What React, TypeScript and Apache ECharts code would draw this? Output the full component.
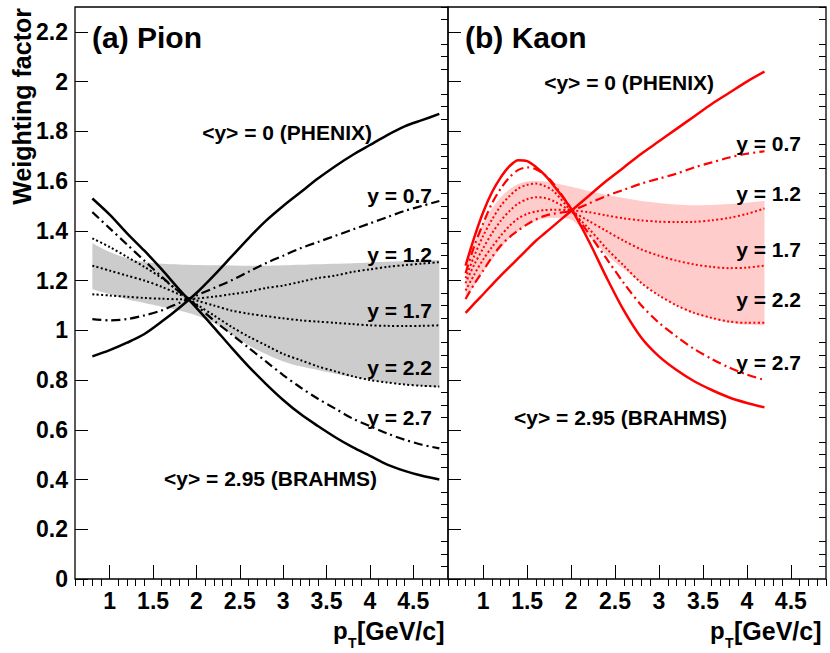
import React, { useEffect, useRef } from "react";
import * as echarts from "echarts";

// ---------------- data ----------------
const pTPion = [0.8, 1.0, 1.2, 1.4, 1.6, 1.8, 2.0, 2.2, 2.4, 2.6, 2.8, 3.0, 3.2, 3.4, 3.6, 3.8, 4.0, 4.2, 4.4, 4.6, 4.8];
const pionPhenix = [0.895, 0.92, 0.95, 0.985, 1.035, 1.09, 1.15, 1.22, 1.295, 1.37, 1.44, 1.5, 1.555, 1.61, 1.66, 1.705, 1.745, 1.785, 1.82, 1.845, 1.87];
const pionBrahms = [1.53, 1.465, 1.39, 1.32, 1.245, 1.165, 1.09, 1.012, 0.932, 0.855, 0.785, 0.72, 0.663, 0.615, 0.57, 0.53, 0.495, 0.46, 0.435, 0.415, 0.4];
const pionY07 = [1.045, 1.04, 1.045, 1.06, 1.08, 1.11, 1.14, 1.17, 1.2, 1.235, 1.27, 1.3, 1.33, 1.355, 1.38, 1.405, 1.43, 1.455, 1.48, 1.5, 1.52];
const pionY12 = [1.145, 1.14, 1.135, 1.13, 1.127, 1.125, 1.128, 1.135, 1.145, 1.155, 1.17, 1.18, 1.195, 1.21, 1.22, 1.235, 1.245, 1.255, 1.262, 1.268, 1.274];
const pionY17 = [1.26, 1.24, 1.22, 1.2, 1.175, 1.145, 1.12, 1.1, 1.08, 1.067, 1.057, 1.048, 1.04, 1.035, 1.03, 1.025, 1.02, 1.018, 1.017, 1.018, 1.02];
const pionY22 = [1.37, 1.335, 1.295, 1.255, 1.21, 1.155, 1.105, 1.06, 1.015, 0.975, 0.94, 0.905, 0.88, 0.855, 0.835, 0.815, 0.8, 0.79, 0.782, 0.777, 0.774];
const pionY27 = [1.475, 1.41, 1.345, 1.28, 1.215, 1.155, 1.1, 1.04, 0.985, 0.93, 0.875, 0.82, 0.77, 0.725, 0.685, 0.645, 0.615, 0.585, 0.56, 0.54, 0.525];
const pionBandLow = [1.165, 1.145, 1.125, 1.11, 1.095, 1.08, 1.06, 1.03, 0.985, 0.94, 0.905, 0.875, 0.855, 0.84, 0.825, 0.812, 0.8, 0.79, 0.782, 0.776, 0.77];
const pionBandHigh = [1.35, 1.315, 1.29, 1.275, 1.268, 1.265, 1.263, 1.262, 1.261, 1.26, 1.26, 1.262, 1.264, 1.266, 1.268, 1.27, 1.273, 1.276, 1.278, 1.28, 1.283];

const pTKaon = [0.8, 0.9, 1.0, 1.1, 1.2, 1.3, 1.4, 1.5, 1.6, 1.7, 1.8, 2.0, 2.2, 2.4, 2.6, 2.8, 3.0, 3.2, 3.4, 3.6, 3.8, 4.0, 4.2];
const kaonPhenix = [1.07, 1.108, 1.145, 1.183, 1.22, 1.255, 1.29, 1.325, 1.36, 1.39, 1.42, 1.48, 1.54, 1.6, 1.655, 1.71, 1.76, 1.81, 1.86, 1.91, 1.955, 2.0, 2.04];
const kaonBrahms = [1.26, 1.375, 1.475, 1.555, 1.615, 1.66, 1.684, 1.68, 1.657, 1.625, 1.583, 1.489, 1.36, 1.215, 1.08, 0.97, 0.895, 0.84, 0.795, 0.76, 0.73, 0.708, 0.69];
const kaonY07 = [1.126, 1.187, 1.24, 1.294, 1.341, 1.375, 1.402, 1.426, 1.446, 1.46, 1.469, 1.48, 1.51, 1.54, 1.565, 1.59, 1.61, 1.63, 1.655, 1.675, 1.695, 1.71, 1.72];
const kaonY12 = [1.16, 1.225, 1.285, 1.335, 1.38, 1.42, 1.45, 1.468, 1.478, 1.483, 1.485, 1.482, 1.475, 1.462, 1.45, 1.442, 1.437, 1.435, 1.436, 1.442, 1.452, 1.468, 1.49];
const kaonY17 = [1.19, 1.265, 1.33, 1.39, 1.44, 1.48, 1.51, 1.527, 1.535, 1.532, 1.52, 1.48, 1.44, 1.4, 1.36, 1.325, 1.3, 1.28, 1.265, 1.255, 1.25, 1.252, 1.26];
const kaonY22 = [1.21, 1.3, 1.38, 1.445, 1.5, 1.54, 1.57, 1.585, 1.59, 1.58, 1.56, 1.48, 1.41, 1.33, 1.26, 1.19, 1.14, 1.1, 1.07, 1.05, 1.035, 1.03, 1.03];
const kaonY27 = [1.23, 1.34, 1.43, 1.51, 1.57, 1.615, 1.645, 1.655, 1.648, 1.625, 1.59, 1.49, 1.39, 1.29, 1.19, 1.1, 1.03, 0.975, 0.925, 0.885, 0.85, 0.822, 0.8];
const kaonBandLow = [1.12, 1.18, 1.235, 1.285, 1.33, 1.37, 1.4, 1.425, 1.44, 1.45, 1.453, 1.445, 1.38, 1.305, 1.245, 1.19, 1.14, 1.1, 1.068, 1.045, 1.03, 1.022, 1.02];
const kaonBandHigh = [1.25, 1.35, 1.43, 1.49, 1.535, 1.567, 1.588, 1.598, 1.6, 1.598, 1.592, 1.577, 1.56, 1.545, 1.532, 1.52, 1.512, 1.506, 1.503, 1.504, 1.508, 1.513, 1.52];

const xMajorTicks = [1, 1.5, 2, 2.5, 3, 3.5, 4, 4.5];
const yMajorTicks = [0, 0.2, 0.4, 0.6, 0.8, 1, 1.2, 1.4, 1.6, 1.8, 2, 2.2];

const panelTitles = ["(a) Pion", "(b) Kaon"];
const curveLabels = ["<y> = 0 (PHENIX)", "y = 0.7", "y = 1.2", "y = 1.7", "y = 2.2", "y = 2.7", "<y> = 2.95 (BRAHMS)"];
const yTitle = "Weighting factor";

// ---------------- helpers ----------------
const FONT = '"Liberation Sans", Arial, Helvetica, sans-serif';
const X_MIN = 0.6;
const X_MAX = 4.9;
const Y_MIN = 0;
const Y_MAX = 2.3;

const xMinorTicks: number[] = [];
for (let i = 6; i <= 49; i++) {
  if (i % 5 !== 0) xMinorTicks.push(i / 10);
}
const yMinorTicks: number[] = [];
for (let i = 1; i <= 46; i++) {
  if (i % 4 !== 0) yMinorTicks.push(i / 20);
}

const zip = (xs: number[], ys: number[]) => xs.map((x, i) => [x, ys[i]]);

const DASHDOT = [9, 4, 2, 4];
const DOTTED = [2, 2.4];
const SMOOTH = 0.3;

function curve(xs: number[], ys: number[], idx: number, color: string, type: any, width: number) {
  return {
    type: "line",
    xAxisIndex: idx * 2,
    yAxisIndex: idx * 2,
    data: zip(xs, ys),
    symbol: "none",
    smooth: SMOOTH,
    silent: true,
    z: 3,
    lineStyle: { color, type, width, cap: "butt" },
  };
}

// band: stacked pair (lower edge + thickness); columns are [value, pT] so the value column is stacked
function band(xs: number[], lo: number[], hi: number[], idx: number, color: string, stack: string) {
  const base = {
    type: "line",
    xAxisIndex: idx * 2,
    yAxisIndex: idx * 2,
    symbol: "none",
    smooth: SMOOTH,
    silent: true,
    z: 1,
    stack,
    encode: { x: 1, y: 0 },
    lineStyle: { opacity: 0, width: 0 },
  };
  return [
    { ...base, data: lo.map((v, i) => [v, xs[i]]) },
    { ...base, data: hi.map((v, i) => [v - lo[i], xs[i]]), areaStyle: { color, opacity: 1 } },
  ];
}

function xAxes(gridIndex: number) {
  return [
    {
      type: "value",
      gridIndex,
      min: X_MIN,
      max: X_MAX,
      z: 5,
      axisLine: { show: false },
      splitLine: { show: false },
      axisTick: { show: true, inside: true, length: 14, customValues: xMajorTicks, lineStyle: { color: "#000", width: 1 } },
      axisLabel: {
        show: true,
        customValues: xMajorTicks,
        margin: 10,
        color: "#000",
        fontFamily: FONT,
        fontWeight: "bold",
        fontSize: 23,
      },
    },
    {
      type: "value",
      gridIndex,
      min: X_MIN,
      max: X_MAX,
      z: 5,
      axisLine: { show: false },
      splitLine: { show: false },
      axisTick: { show: true, inside: true, length: 7, customValues: xMinorTicks, lineStyle: { color: "#000", width: 1 } },
      axisLabel: { show: false },
    },
  ];
}

function yAxes(gridIndex: number, labels: boolean) {
  return [
    {
      type: "value",
      gridIndex,
      min: Y_MIN,
      max: Y_MAX,
      z: 5,
      axisLine: { show: false },
      splitLine: { show: false },
      axisTick: { show: true, inside: true, length: 13, customValues: yMajorTicks, lineStyle: { color: "#000", width: 1 } },
      axisLabel: {
        show: labels,
        customValues: yMajorTicks,
        margin: 7,
        color: "#000",
        fontFamily: FONT,
        fontWeight: "bold",
        fontSize: 23,
      },
    },
    {
      type: "value",
      gridIndex,
      min: Y_MIN,
      max: Y_MAX,
      z: 5,
      axisLine: { show: false },
      splitLine: { show: false },
      axisTick: { show: true, inside: true, length: 7, customValues: yMinorTicks, lineStyle: { color: "#000", width: 1 } },
      axisLabel: { show: false },
    },
  ];
}

function txt(text: string, x: number, y: number, size: number, align: string, color = "#000", extra: any = {}) {
  return {
    type: "text",
    x,
    y,
    z: 100,
    silent: true,
    ...extra,
    style: {
      text,
      fill: color,
      font: `bold ${size}px ${FONT}`,
      fontFamily: FONT,
      fontWeight: "bold",
      fontSize: size,
      align,
      textAlign: align,
      verticalAlign: "middle",
      textVerticalAlign: "middle",
    },
  };
}

function panelTexts(dx: number, labelsRight: number[], labelsY: number[], phenixRight: number, phenixY: number, brahmsRight: number, brahmsY: number) {
  const out: any[] = [];
  out.push(txt(curveLabels[0], phenixRight, phenixY, 21, "right"));
  for (let i = 0; i < 5; i++) out.push(txt(curveLabels[i + 1], labelsRight[i], labelsY[i], 21, "right"));
  out.push(txt(curveLabels[6], brahmsRight, brahmsY, 21, "right"));
  // axis title p_T[GeV/c]
  out.push(txt("p", 333 + dx, 630, 24, "left"));
  out.push(txt("T", 348 + dx, 643, 14, "left"));
  out.push(txt("[GeV/c]", 357 + dx, 631, 25, "left"));
  return out;
}

const option: any = {
  animation: false,
  grid: [
    { left: 75, top: 7, width: 373, height: 572, show: true, z: 6, borderColor: "#000", borderWidth: 1.3, backgroundColor: "transparent", outerBoundsMode: "none", containLabel: false },
    { left: 448, top: 7, width: 378, height: 572, show: true, z: 6, borderColor: "#000", borderWidth: 1.3, backgroundColor: "transparent", outerBoundsMode: "none", containLabel: false },
  ],
  xAxis: [...xAxes(0), ...xAxes(1)],
  yAxis: [...yAxes(0, true), ...yAxes(1, false)],
  series: [
    ...band(pTPion, pionBandLow, pionBandHigh, 0, "#cccccc", "pionBand"),
    curve(pTPion, pionPhenix, 0, "#000", "solid", 2.5),
    curve(pTPion, pionBrahms, 0, "#000", "solid", 2.5),
    curve(pTPion, pionY07, 0, "#000", DASHDOT, 2.2),
    curve(pTPion, pionY27, 0, "#000", DASHDOT, 2.2),
    curve(pTPion, pionY12, 0, "#000", DOTTED, 2),
    curve(pTPion, pionY17, 0, "#000", DOTTED, 2),
    curve(pTPion, pionY22, 0, "#000", DOTTED, 2),
    ...band(pTKaon, kaonBandLow, kaonBandHigh, 1, "#ffcccc", "kaonBand"),
    curve(pTKaon, kaonPhenix, 1, "#ff0000", "solid", 2.5),
    curve(pTKaon, kaonBrahms, 1, "#ff0000", "solid", 2.5),
    curve(pTKaon, kaonY07, 1, "#ff0000", DASHDOT, 2.2),
    curve(pTKaon, kaonY27, 1, "#ff0000", DASHDOT, 2.2),
    curve(pTKaon, kaonY12, 1, "#ff0000", DOTTED, 2),
    curve(pTKaon, kaonY17, 1, "#ff0000", DOTTED, 2),
    curve(pTKaon, kaonY22, 1, "#ff0000", DOTTED, 2),
  ],
  graphic: [
    txt(panelTitles[0], 92, 37, 30, "left"),
    txt(panelTitles[1], 465, 37, 30, "left"),
    txt(yTitle, 22, 8, 25, "right", "#000", { rotation: Math.PI / 2 }),
    ...panelTexts(0, [432, 432, 432, 432, 432], [195, 254, 310, 367, 417], 372, 132, 377, 478),
    ...panelTexts(377, [801, 801, 801, 801, 801], [143, 193, 249, 299, 362], 714, 82, 727, 417),
  ],
};

export default function App() {
  const ref = useRef<HTMLDivElement>(null);
  useEffect(() => {
    if (!ref.current) return;
    const chart = echarts.init(ref.current, null, { renderer: "svg" });
    chart.setOption(option);
    return () => {
      chart.dispose();
    };
  }, []);
  return <div ref={ref} style={{ position: "fixed", left: 0, top: 0, width: 830, height: 653, background: "#fff" }} />;
}
